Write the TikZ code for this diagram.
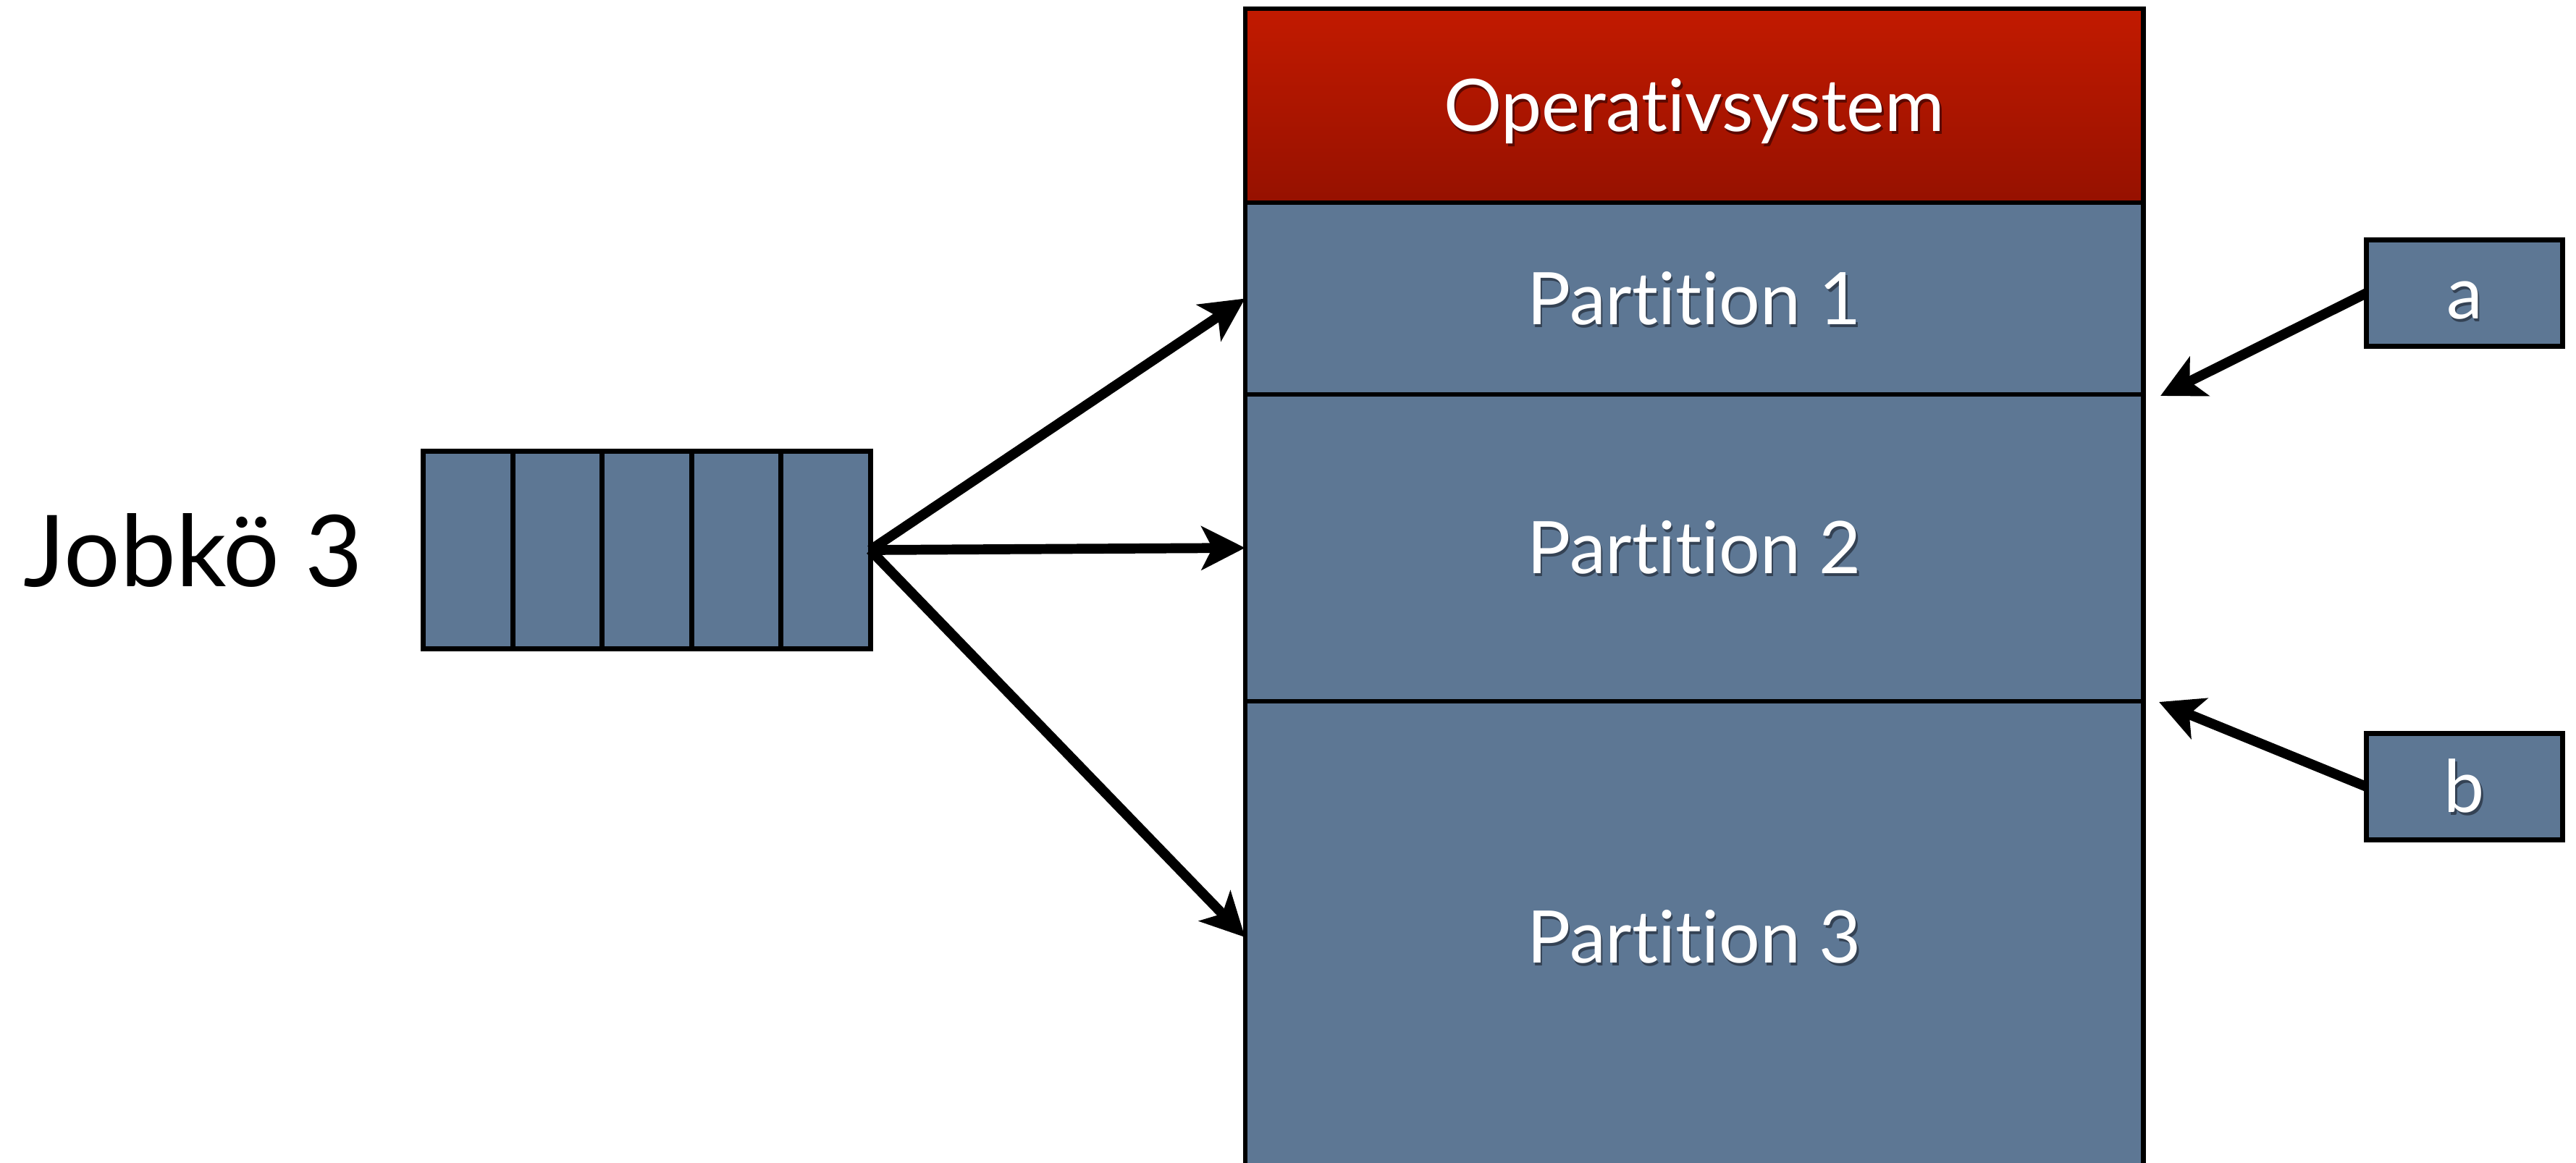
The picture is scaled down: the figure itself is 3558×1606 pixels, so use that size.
\documentclass[tikz,border=0pt]{standalone}
\usepackage{fontspec}
\setmainfont{Lato}[Ligatures=NoCommon]
\usetikzlibrary{arrows.meta}

\definecolor{slate}{RGB}{93,119,148}
\definecolor{slateshade}{RGB}{52,66,84}
\definecolor{ostop}{RGB}{194,26,0}
\definecolor{osbot}{RGB}{150,17,0}
\definecolor{osshade}{RGB}{90,8,0}

% white label with a soft dark drop shadow below it
\newcommand{\shtext}[2]{\leavevmode\rlap{\kern0.025cm\raisebox{-0.04cm}{\textcolor{#1}{#2}}}#2}

\begin{document}
\begin{tikzpicture}[x=0.01cm,y=-0.01cm,
  cell/.style={draw=black,line width=1.8pt,fill=slate,inner sep=0pt,outer sep=0pt},
  mem/.style={cell,minimum width=12.4cm},
  qcell/.style={cell,line width=2pt,minimum width=1.234cm,minimum height=2.72cm},
  tag/.style={cell,minimum width=2.71cm,minimum height=1.47cm},
  lbl/.style={text=white,font=\fontsize{28.5}{34}\selectfont,text height=20.4pt,text depth=0pt},
  link/.style={line width=3.9pt,-{Stealth[length=0.6cm,width=0.6cm,inset=0.15cm]}}
]
\useasboundingbox (0,0) rectangle (3558,1606);

\begin{scope}
\clip (0,0) rectangle (3558,1606);
% memory layout
\node[mem,minimum height=2.68cm,top color=ostop,bottom color=osbot,lbl] (os) at (2340,146) {\shtext{osshade}{Operativsystem}};
\node[mem,minimum height=2.65cm,lbl] (p1) at (2340,412.5) {\shtext{slateshade}{Partition 1}};
\node[mem,minimum height=4.24cm,lbl] (p2) at (2340,757) {\shtext{slateshade}{Partition 2}};
\node[mem,minimum height=6.52cm,lbl] (p3) at (2340,1295) {\shtext{slateshade}{Partition 3}};
\end{scope}

% job queue
\node[font=\fontsize{39}{46}\selectfont,anchor=base] (jq) at (267,810) {Jobkö 3};
\node[qcell] (q1) at (646.7,760) {};
\node[qcell] (q2) at (770.1,760) {};
\node[qcell] (q3) at (893.5,760) {};
\node[qcell] (q4) at (1016.9,760) {};
\node[qcell] (q5) at (1140.3,760) {};

% jobs a and b
\node[tag,lbl] (a) at (3404,405) {\shtext{slateshade}{a}};
\node[tag,lbl] (b) at (3404,1087) {\shtext{slateshade}{b}};
\coordinate (ta) at (2984,547);
\coordinate (tb) at (2982,970);

% connectors
\draw[link] (q5.east) -- (p1.west);
\draw[link] (q5.east) -- (p2.west);
\draw[link] (q5.east) -- (p3.west);
\draw[link] (a.west) -- (ta);
\draw[link] (b.west) -- (tb);
\end{tikzpicture}
\end{document}
